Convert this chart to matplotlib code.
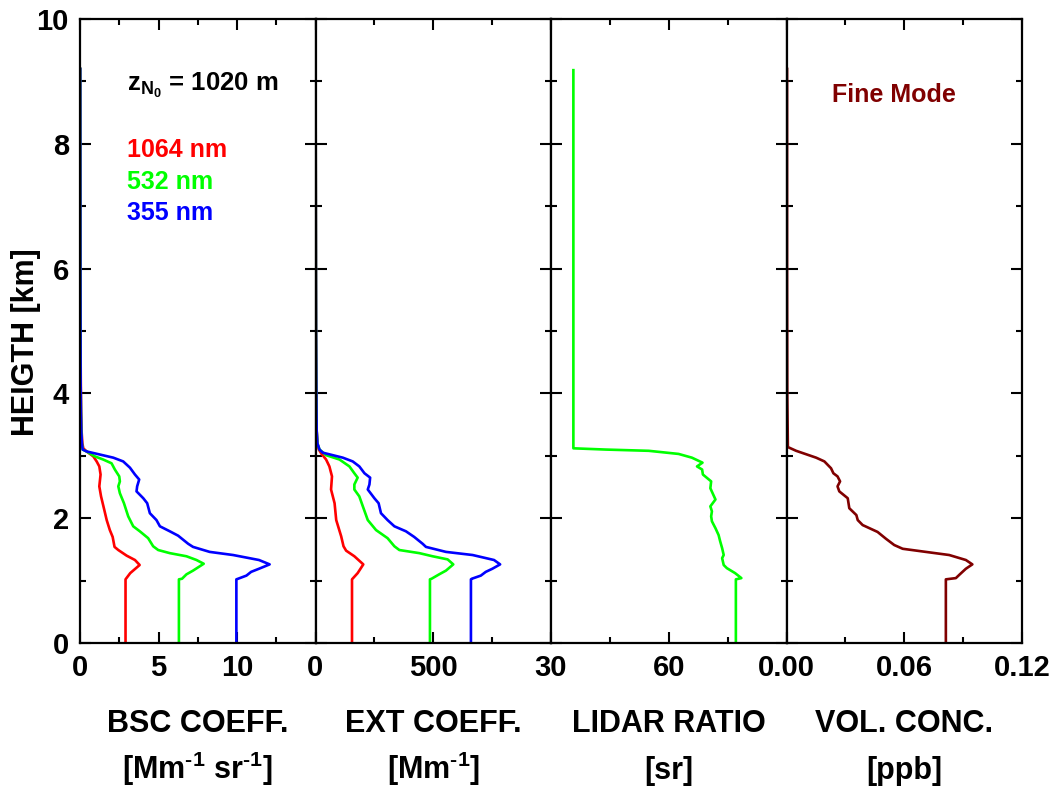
import matplotlib.pyplot as plt
from matplotlib.ticker import MultipleLocator

plt.rcParams['font.family'] = ['Liberation Sans', 'DejaVu Sans']
plt.rcParams['font.weight'] = 'bold'
plt.rcParams['mathtext.fontset'] = 'custom'
plt.rcParams['mathtext.rm'] = 'Liberation Sans:bold'
plt.rcParams['mathtext.bf'] = 'Liberation Sans:bold'
plt.rcParams['mathtext.it'] = 'Liberation Sans:bold'
plt.rcParams['mathtext.default'] = 'bf'

RED = "#FF0000"
GREEN = "#00FF00"
BLUE = "#0000FF"
DARKRED = "#800000"

# ---- backscatter coefficient [Mm-1 sr-1]
bsc_1064_h = [0, 1.02, 1.12, 1.25, 1.33, 1.40, 1.49, 1.54, 1.70, 1.81, 1.97, 2.13, 2.35,
              2.51, 2.70, 2.83, 2.91, 2.99, 3.07, 3.12, 3.2, 3.4, 3.7, 4.2, 5.0, 6.0, 7.5, 9.2]
bsc_1064 = [2.9, 2.9, 3.2, 3.8, 3.5, 2.97, 2.44, 2.2, 2.08, 1.9, 1.7, 1.55, 1.34,
            1.23, 1.31, 1.23, 1.06, 0.85, 0.42, 0.21, 0.15, 0.1, 0.07, 0.05, 0.03, 0.02, 0.015, 0.01]

bsc_532_h = [0, 1.02, 1.03, 1.10, 1.16, 1.27, 1.33, 1.39, 1.44, 1.49, 1.55, 1.68, 1.79, 1.87,
             2.03, 2.24, 2.40, 2.51, 2.59, 2.67, 2.78, 2.88, 2.94, 2.99, 3.07, 3.1,
             3.2, 3.4, 3.7, 4.2, 5.0, 6.0, 7.5, 9.2]
bsc_532 = [6.3, 6.3, 6.5, 6.78, 7.2, 7.88, 7.42, 6.78, 5.72, 4.98, 4.66, 4.34, 3.81, 3.39,
           3.07, 2.8, 2.54, 2.44, 2.54, 2.5, 2.22, 2.01, 1.48, 0.95, 0.42, 0.17,
           0.12, 0.08, 0.06, 0.04, 0.03, 0.02, 0.015, 0.01]

bsc_355_h = [0, 1.02, 1.03, 1.08, 1.14, 1.19, 1.26, 1.33, 1.41, 1.46, 1.54, 1.59, 1.72, 1.79,
             1.87, 1.97, 2.08, 2.24, 2.32, 2.43, 2.51, 2.62, 2.70, 2.81, 2.91, 2.97, 3.02,
             3.07, 3.1, 3.2, 3.4, 3.7, 4.2, 5.0, 6.0, 7.5, 9.2]
bsc_355 = [9.96, 9.96, 10.07, 10.6, 10.9, 11.4, 12.08, 11.4, 9.75, 8.26, 7.2, 6.89, 6.25, 5.72,
           5.09, 4.87, 4.45, 4.28, 4.03, 3.6, 3.64, 3.77, 3.5, 3.18, 2.75, 2.12, 1.27,
           0.42, 0.17, 0.12, 0.08, 0.06, 0.04, 0.03, 0.02, 0.015, 0.01]

# ---- extinction coefficient [Mm-1]
ext_1064_h = [0, 1.02, 1.12, 1.26, 1.39, 1.48, 1.55, 1.71, 1.97, 2.24, 2.46, 2.67, 2.83,
              2.94, 3.04, 3.1, 3.2, 3.4, 3.7, 4.2, 5.0, 6.0, 7.5, 9.2]
ext_1064 = [155, 155, 179, 203, 165, 130, 119, 109, 88, 81, 66, 70, 59,
            45, 24, 14, 8, 5, 4, 3, 2, 1.5, 1, 0.5]

ext_532_h = [0, 1.02, 1.03, 1.10, 1.16, 1.26, 1.34, 1.39, 1.44, 1.49, 1.55, 1.68, 1.81, 1.97,
             2.19, 2.35, 2.46, 2.54, 2.65, 2.72, 2.83, 2.94, 3.01, 3.1,
             3.2, 3.4, 3.7, 4.2, 5.0, 6.0, 7.5, 9.2]
ext_532 = [486, 486, 493, 525, 554, 585, 561, 497, 441, 356, 335, 306, 257, 222,
           201, 186, 165, 165, 179, 165, 144, 102, 45, 17,
           8, 5, 4, 3, 2, 1.5, 1, 0.5]

ext_355_h = [0, 1.02, 1.03, 1.08, 1.14, 1.19, 1.26, 1.33, 1.41, 1.46, 1.54, 1.59, 1.70, 1.79,
             1.87, 1.97, 2.08, 2.24, 2.32, 2.46, 2.54, 2.65, 2.72, 2.83, 2.91, 2.97, 3.05, 3.1,
             3.2, 3.4, 3.7, 4.2, 5.0, 6.0, 7.5, 9.2]
ext_355 = [660, 660, 664, 702, 723, 751, 784, 758, 667, 554, 469, 455, 419, 384,
           335, 306, 278, 268, 250, 222, 229, 232, 208, 186, 158, 116, 31, 17,
           8, 5, 4, 3, 2, 1.5, 1, 0.5]

# ---- lidar ratio 532 nm [sr]
lr_532_h = [0, 1.02, 1.04, 1.12, 1.20, 1.25, 1.36, 1.41, 1.52, 1.63, 1.73, 1.84, 1.95, 2.03,
            2.11, 2.19, 2.30, 2.48, 2.59, 2.70, 2.78, 2.83, 2.89, 2.97, 3.03, 3.08, 3.10,
            3.12, 9.18]
lr_532 = [77.1, 77.1, 78.5, 76.9, 74.8, 74.0, 73.6, 74.0, 73.6, 73.1, 72.7, 71.9, 71.0, 70.8,
          71.0, 70.6, 71.9, 70.6, 70.8, 68.7, 68.5, 67.2, 68.6, 65.9, 62.5, 54.9, 43.9,
          35.7, 35.7]

# ---- fine mode volume concentration [ppb]
vol_h = [0, 1.02, 1.04, 1.10, 1.19, 1.26, 1.33, 1.41, 1.46, 1.51, 1.57, 1.67, 1.78, 1.89,
         1.97, 2.05, 2.16, 2.32, 2.43, 2.51, 2.59, 2.67, 2.72, 2.80, 2.91, 2.97, 3.08, 3.14,
         4.0, 6.0, 9.2]
vol_fine = [0.0812, 0.0812, 0.0863, 0.0883, 0.0914, 0.0947, 0.0914, 0.0829, 0.0710, 0.0592,
            0.0549, 0.0507, 0.0464, 0.0388, 0.0363, 0.0356, 0.032, 0.0312, 0.0269, 0.026,
            0.0273, 0.026, 0.0239, 0.0227, 0.0193, 0.0151, 0.0049, 0.0007, 0.0004, 0.0003, 0.0003]

LW = 1.9


def style(ax, xlim, major, minor, labels):
    ax.set_xlim(*xlim)
    ax.set_ylim(0, 10)
    ax.set_xticks(major, labels)
    ax.xaxis.set_minor_locator(MultipleLocator(minor))
    ax.yaxis.set_major_locator(MultipleLocator(2))
    ax.yaxis.set_minor_locator(MultipleLocator(1))
    ax.tick_params(which="both", direction="in", top=True, right=True, width=1.5,
                   labelsize=21, pad=8)
    ax.tick_params(which="major", length=8)
    ax.tick_params(which="minor", length=4)
    for s in ax.spines.values():
        s.set_linewidth(1.6)


fig = plt.figure(figsize=(10.58, 7.86), dpi=100)
left, right, bottom, top = 80 / 1058, 1022 / 1058, 1 - 643 / 786, 1 - 19 / 786
w = (right - left) / 4
axes = [fig.add_axes([left + i * w, bottom, w, top - bottom]) for i in range(4)]
a1, a2, a3, a4 = axes

a1.plot(bsc_1064, bsc_1064_h, color=RED, lw=LW)
a1.plot(bsc_532, bsc_532_h, color=GREEN, lw=LW)
a1.plot(bsc_355, bsc_355_h, color=BLUE, lw=LW)
style(a1, (0, 15), [0, 5, 10, 15], 2.5, ["0", "5", "10", ""])
fig.text(26 / 1058, 1 - 342 / 786, "HEIGTH [km]", rotation=90, fontsize=22,
         ha="center", va="center")
a1.text(3.0, 8.93, r"z$_{N_0}$ = 1020 m", fontsize=18.5, va="center", ha="left")
a1.text(3.0, 7.9, "1064 nm", color=RED, fontsize=18, va="center")
a1.text(3.0, 7.39, "532 nm", color=GREEN, fontsize=18, va="center")
a1.text(3.0, 6.89, "355 nm", color=BLUE, fontsize=18, va="center")

a2.plot(ext_1064, ext_1064_h, color=RED, lw=LW)
a2.plot(ext_532, ext_532_h, color=GREEN, lw=LW)
a2.plot(ext_355, ext_355_h, color=BLUE, lw=LW)
style(a2, (0, 1000), [0, 500, 1000], 250, ["0", "500", ""])

a3.plot(lr_532, lr_532_h, color=GREEN, lw=LW)
style(a3, (30, 90), [30, 60, 90], 15, ["30", "60", ""])

a4.plot(vol_fine, vol_h, color=DARKRED, lw=LW)
style(a4, (0, 0.12), [0, 0.06, 0.12], 0.03, ["0.00", "0.06", "0.12"])
a4.text(0.0549, 8.78, "Fine Mode", color=DARKRED, fontsize=18, ha="center", va="center")

for ax in axes[1:]:
    ax.tick_params(labelleft=False)

titles = [("BSC COEFF.", r"[Mm$^{\text{-1}}$ sr$^{\text{-1}}$]"),
          ("EXT COEFF.", r"[Mm$^{\text{-1}}$]"),
          ("LIDAR RATIO", "[sr]"), ("VOL. CONC.", "[ppb]")]
for ax, (t1, t2) in zip(axes, titles):
    ax.text(0.5, -0.143, t1, transform=ax.transAxes, ha="center", va="baseline", fontsize=22)
    ax.text(0.5, -0.218, t2, transform=ax.transAxes, ha="center", va="baseline", fontsize=22)

fig.savefig("out.png", dpi=100)
